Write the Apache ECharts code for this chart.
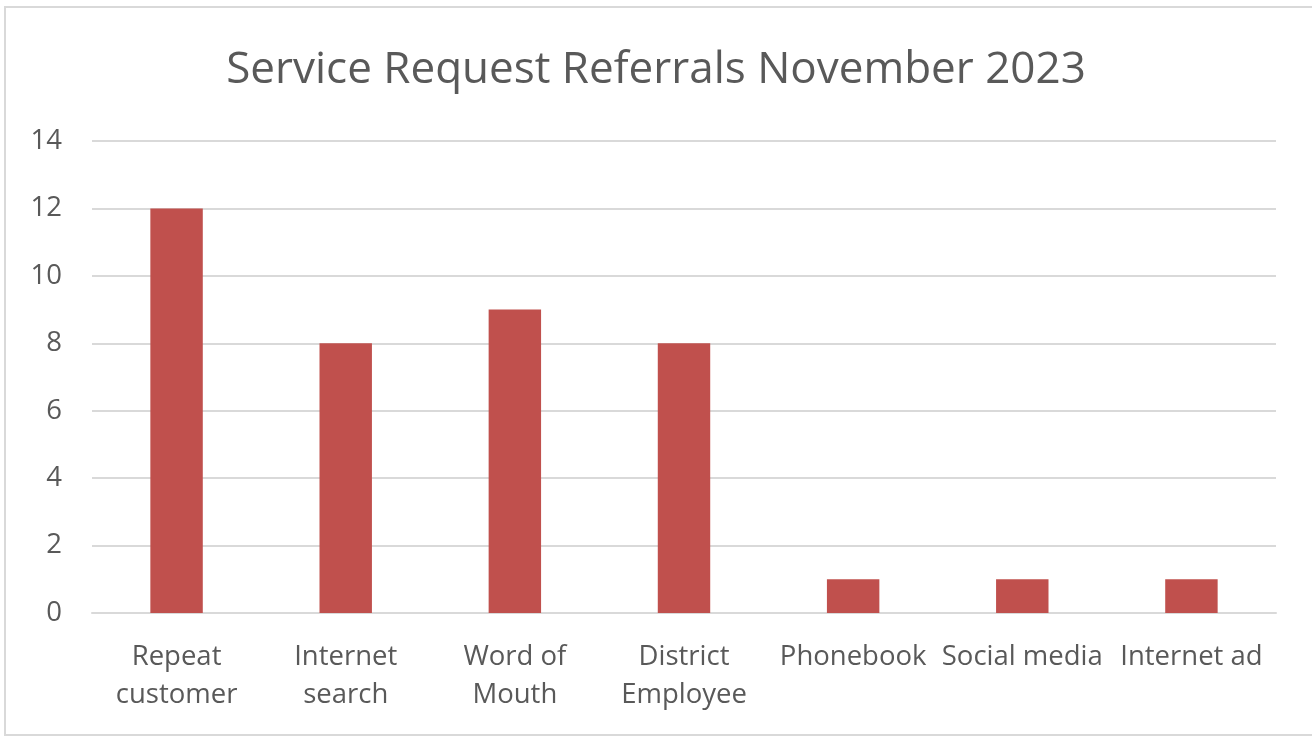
<!DOCTYPE html>
<html>
<head>
<meta charset="utf-8">
<style>
  html, body { margin: 0; padding: 0; background: #fff; }
  #chart { width: 1312px; height: 737px; }
</style>
<script src="https://cdn.jsdelivr.net/npm/echarts@6/dist/echarts.min.js"></script>
</head>
<body>
<div id="chart"></div>
<script>
// Referral sources and counts
const categories = ['Repeat\ncustomer', 'Internet\nsearch', 'Word of\nMouth', 'District\nEmployee', 'Phonebook', 'Social media', 'Internet ad'];
const referrals = [12, 8, 9, 8, 1, 1, 1];
const yTicks = [0, 2, 4, 6, 8, 10, 12, 14];

const FONT = '"Open Sans", "Noto Sans", sans-serif';
const TEXT = '#595959';

const chart = echarts.init(document.getElementById('chart'), null, { renderer: 'canvas' });
chart.setOption({
  animation: false,
  backgroundColor: '#ffffff',
  title: {
    text: 'Service Request Referrals November 2023',
    left: 'center',
    top: 43,
    textStyle: { fontFamily: FONT, fontSize: 44, fontWeight: 'normal', color: TEXT }
  },
  graphic: [{
    type: 'rect',
    shape: { x: 5, y: 7, width: 1330, height: 728 },
    style: { fill: 'none', stroke: '#d9d9d9', lineWidth: 2 },
    silent: true
  }],
  grid: { left: 92, right: 36, top: 141, bottom: 124 },
  xAxis: {
    type: 'category',
    data: categories,
    axisTick: { show: false },
    axisLine: { lineStyle: { color: '#d9d9d9', width: 2 } },
    axisLabel: {
      fontFamily: FONT, fontSize: 27.5, color: TEXT, margin: 25, lineHeight: 38, interval: 0
    }
  },
  yAxis: {
    type: 'value',
    min: yTicks[0],
    max: yTicks[yTicks.length - 1],
    interval: 2,
    axisLine: { show: false },
    axisTick: { show: false },
    splitLine: { lineStyle: { color: '#d9d9d9', width: 2 } },
    axisLabel: { fontFamily: FONT, fontSize: 27.5, color: TEXT, margin: 30 }
  },
  series: [{
    type: 'bar',
    data: referrals,
    barWidth: '31%',
    itemStyle: { color: '#c0504d' }
  }]
});
</script>
</body>
</html>
